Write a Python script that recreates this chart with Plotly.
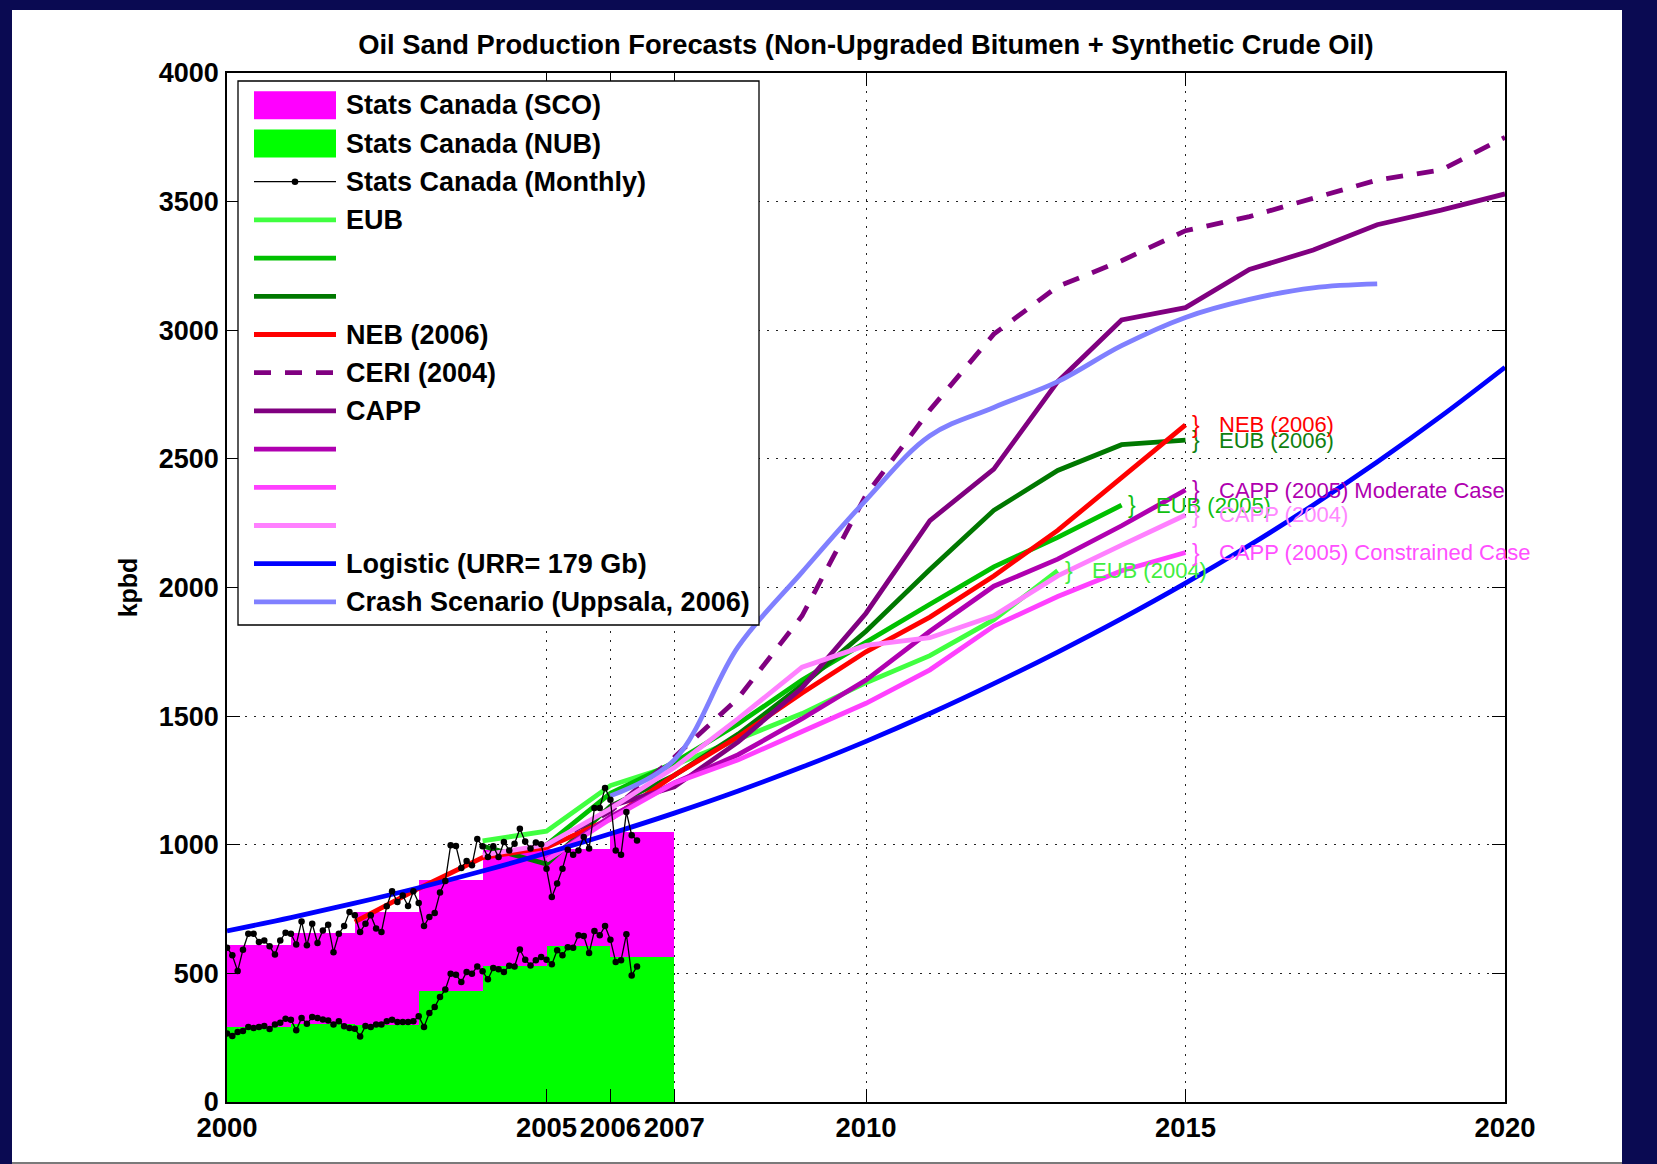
import plotly.graph_objects as go

# ---------------- data (kbpd) ----------------
# Stats Canada annual production, stacked: non-upgraded bitumen + synthetic crude
years_hist = [2000, 2001, 2002, 2003, 2004, 2005, 2006]
nub_annual = [290, 305, 300, 430, 529, 606, 564]
sco_annual = [319, 352, 438, 432, 451, 379, 486]

# Stats Canada monthly, Jan 2000 onwards
monthly_total = [600, 570, 509, 592, 654, 654, 622, 628, 605, 573, 628, 658,
                 654, 612, 702, 609, 693, 618, 667, 689, 582, 654, 684, 739,
                 726, 661, 693, 726, 674, 661, 761, 819, 777, 803, 762, 819,
                 774, 684, 719, 735, 814, 859, 998, 995, 910, 937, 920, 1022,
                 994, 952, 994, 952, 1011, 978, 1004, 1062, 1013, 985, 1009, 1002,
                 907, 797, 849, 907, 981, 961, 978, 1030, 985, 1143, 1143, 1221,
                 1175, 978, 961, 1127, 1037, 1017]
monthly_nub = [266, 257, 272, 276, 292, 288, 292, 295, 284, 301, 308, 324,
               320, 279, 327, 304, 330, 327, 321, 317, 301, 314, 294, 288,
               285, 255, 295, 292, 301, 301, 314, 320, 311, 311, 311, 314,
               333, 292, 346, 369, 408, 437, 499, 495, 466, 505, 499, 527,
               508, 477, 521, 516, 505, 530, 527, 593, 553, 531, 551, 564,
               553, 535, 590, 570, 602, 600, 648, 645, 579, 665, 648, 684,
               631, 544, 551, 652, 492, 527]

# Forecasts
eub2004_years = [2004, 2005, 2006, 2007, 2008, 2009, 2010, 2011, 2012, 2013]
eub2004 = [1015, 1053, 1230, 1310, 1410, 1510, 1630, 1735, 1875, 2065]

eub2005_years = [2005, 2006, 2007, 2008, 2009, 2010, 2011, 2012, 2013, 2014]
eub2005 = [1000, 1200, 1320, 1470, 1640, 1790, 1935, 2080, 2195, 2320]

eub2006_years = [2004, 2005, 2006, 2007, 2008, 2009, 2010, 2011, 2012, 2013, 2014, 2015]
eub2006 = [995, 925, 1150, 1270, 1430, 1620, 1830, 2070, 2300, 2455, 2555, 2573]

neb2006_years = [2002, 2003, 2004, 2005, 2006, 2007, 2008, 2009, 2010, 2011, 2012, 2013, 2014, 2015]
neb2006 = [700, 830, 950, 990, 1100, 1270, 1420, 1590, 1750, 1885, 2045, 2222, 2427, 2632]

ceri2004_years = [2005, 2006, 2007, 2008, 2009, 2010, 2011, 2012, 2013, 2014, 2015,
                  2016, 2017, 2018, 2019, 2020]
ceri2004 = [1000, 1130, 1340, 1570, 1890, 2360, 2690, 2985, 3170, 3270, 3387,
            3442, 3513, 3584, 3623, 3750]

capp2006_years = [2006, 2007, 2008, 2009, 2010, 2011, 2012, 2013, 2014, 2015,
                  2016, 2017, 2018, 2019, 2020]
capp2006 = [1150, 1225, 1400, 1610, 1900, 2260, 2460, 2800, 3040, 3088,
            3236, 3312, 3410, 3467, 3530]

capp2005m_years = [2005, 2006, 2007, 2008, 2009, 2010, 2011, 2012, 2013, 2014, 2015]
capp2005m = [940, 1110, 1240, 1350, 1490, 1640, 1830, 2005, 2110, 2240, 2379]

capp2005c_years = [2005, 2006, 2007, 2008, 2009, 2010, 2011, 2012, 2013, 2014, 2015]
capp2005c = [940, 1100, 1240, 1330, 1440, 1550, 1680, 1850, 1965, 2065, 2136]

capp2004_years = [2004, 2005, 2006, 2007, 2008, 2009, 2010, 2011, 2012, 2013, 2014, 2015]
capp2004 = [960, 1000, 1140, 1300, 1490, 1690, 1775, 1805, 1890, 2045, 2165, 2282]

logistic_years = list(range(2000, 2021))
logistic = [665, 717, 773, 833, 898, 968, 1043, 1123, 1209, 1302, 1402,
            1510, 1626, 1749, 1879, 2017, 2164, 2321, 2488, 2666, 2856]

crash_years = [2006, 2007, 2008, 2009, 2010, 2011, 2012, 2013, 2014, 2015, 2016, 2017, 2018]
crash = [1190, 1330, 1770, 2060, 2340, 2590, 2700, 2800, 2940, 3050, 3120, 3165, 3180]

x_ticks = [2000, 2005, 2006, 2007, 2010, 2015, 2020]
y_ticks = [0, 500, 1000, 1500, 2000, 2500, 3000, 3500, 4000]

# ---------------- styling ----------------
FONT = "Liberation Sans, Arial, Helvetica, sans-serif"
W, H = 1657, 1164
ML, MR, MT, MB = 227, 152, 73, 62
PW, PH = W - ML - MR, H - MT - MB

SCO_COLOR = "#ff00ff"
NUB_COLOR = "#00ff00"

# name on the line end, legend text, years, values, colour, dash, smooth
series = [
    dict(tag="EUB (2004)", legend="EUB", x=eub2004_years, y=eub2004,
         color="#40ff40", tcolor="#40ee40", dash="solid", shape="linear"),
    dict(tag="EUB (2005)", legend="", x=eub2005_years, y=eub2005,
         color="#00c000", tcolor="#10c010", dash="solid", shape="linear"),
    dict(tag="EUB (2006)", legend="", x=eub2006_years, y=eub2006,
         color="#007800", tcolor="#108010", dash="solid", shape="linear"),
    dict(tag="NEB (2006)", legend="NEB (2006)", x=neb2006_years, y=neb2006,
         color="#ff0000", tcolor="#ff0000", dash="solid", shape="linear"),
    dict(tag=None, legend="CERI (2004)", x=ceri2004_years, y=ceri2004,
         color="#800080", tcolor="#800080", dash="17px,14px", shape="linear"),
    dict(tag="CAPP (2006)", legend="CAPP", x=capp2006_years, y=capp2006,
         color="#800080", tcolor="#800080", dash="solid", shape="linear"),
    dict(tag="CAPP (2005) Moderate Case", legend="", x=capp2005m_years, y=capp2005m,
         color="#b000b0", tcolor="#b000b0", dash="solid", shape="linear"),
    dict(tag="CAPP (2005) Constrained Case", legend="", x=capp2005c_years, y=capp2005c,
         color="#ff40ff", tcolor="#ff50ff", dash="solid", shape="linear"),
    dict(tag="CAPP (2004)", legend="", x=capp2004_years, y=capp2004,
         color="#ff80ff", tcolor="#ff88ff", dash="solid", shape="linear"),
    dict(tag=None, legend="Logistic (URR= 179 Gb)", x=logistic_years, y=logistic,
         color="#0000ff", tcolor="#0000ff", dash="solid", shape="spline"),
    dict(tag=None, legend="Crash Scenario (Uppsala, 2006)", x=crash_years, y=crash,
         color="#8080ff", tcolor="#8080ff", dash="solid", shape="spline"),
]

fig = go.Figure()

# stacked annual production blocks, one year wide starting at each year
fig.add_trace(go.Bar(x=years_hist, y=nub_annual, width=1, offset=0,
                     marker=dict(color=NUB_COLOR, line=dict(width=0)),
                     name="Stats Canada (NUB)", showlegend=False))
fig.add_trace(go.Bar(x=years_hist, y=sco_annual, width=1, offset=0,
                     marker=dict(color=SCO_COLOR, line=dict(width=0)),
                     name="Stats Canada (SCO)", showlegend=False))

for s in series:
    fig.add_trace(go.Scatter(
        x=s["x"], y=s["y"], mode="lines", name=s["legend"] or s["tag"],
        line=dict(color=s["color"], width=4.8, dash=s["dash"], shape=s["shape"]),
        showlegend=False))

months_x = [2000 + i / 12 for i in range(len(monthly_total))]
for vals in (monthly_total, monthly_nub):
    fig.add_trace(go.Scatter(
        x=months_x, y=vals, mode="lines+markers", name="Stats Canada (Monthly)",
        line=dict(color="black", width=1.3),
        marker=dict(color="black", size=6.5),
        showlegend=False))

# labels at the end of each forecast
annotations = []
for s in series:
    if not s["tag"]:
        continue
    xe, ye = s["x"][-1], s["y"][-1]
    annotations.append(dict(x=xe + 0.17, y=ye, xref="x", yref="y", text="}",
                            showarrow=False, xanchor="center", yanchor="middle",
                            font=dict(family=FONT, size=23, color=s["tcolor"])))
    annotations.append(dict(x=xe + 0.50, y=ye, xref="x", yref="y", text=s["tag"],
                            showarrow=False, xanchor="left", yanchor="middle",
                            font=dict(family=FONT, size=22, color=s["tcolor"])))


def px_x(px):
    return (px - ML) / PW


def px_y(py):
    return (H - MB - py) / PH


shapes = []
# slide frame: navy surround with white page
shapes.append(dict(type="rect", xref="paper", yref="paper", layer="below",
                   x0=px_x(12), x1=px_x(1622), y0=px_y(1162), y1=px_y(10),
                   fillcolor="white", line=dict(width=0)))
shapes.append(dict(type="rect", xref="paper", yref="paper", layer="below",
                   x0=px_x(12), x1=px_x(1622), y0=px_y(1164), y1=px_y(1162),
                   fillcolor="#7a7a7a", line=dict(width=0)))

# legend box
LX0, LX1, LY0, LY1 = 238, 759, 81, 625
shapes.append(dict(type="rect", xref="paper", yref="paper", layer="above",
                   x0=px_x(LX0), x1=px_x(LX1), y0=px_y(LY1), y1=px_y(LY0),
                   fillcolor="white", line=dict(color="black", width=1.3)))

legend_rows = [("patch", SCO_COLOR, "solid", "Stats Canada (SCO)"),
               ("patch", NUB_COLOR, "solid", "Stats Canada (NUB)"),
               ("marker", "black", "solid", "Stats Canada (Monthly)")]
legend_rows += [("line", s["color"], s["dash"], s["legend"]) for s in series]

SX0, SX1, TX = 254, 336, 344
ROW0, ROWH = 105.3, 38.2
for i, (kind, color, dash, text) in enumerate(legend_rows):
    cy = ROW0 + ROWH * i
    if kind == "patch":
        shapes.append(dict(type="rect", xref="paper", yref="paper", layer="above",
                           x0=px_x(SX0), x1=px_x(SX1), y0=px_y(cy + 14), y1=px_y(cy - 14),
                           fillcolor=color, line=dict(width=0)))
    elif kind == "marker":
        shapes.append(dict(type="line", xref="paper", yref="paper", layer="above",
                           x0=px_x(SX0), x1=px_x(SX1), y0=px_y(cy), y1=px_y(cy),
                           line=dict(color=color, width=1.3)))
        mx = (SX0 + SX1) / 2
        shapes.append(dict(type="circle", xref="paper", yref="paper", layer="above",
                           x0=px_x(mx - 3.3), x1=px_x(mx + 3.3),
                           y0=px_y(cy + 3.3), y1=px_y(cy - 3.3),
                           fillcolor=color, line=dict(width=0)))
    else:
        shapes.append(dict(type="line", xref="paper", yref="paper", layer="above",
                           x0=px_x(SX0), x1=px_x(SX1), y0=px_y(cy), y1=px_y(cy),
                           line=dict(color=color, width=4.8, dash=dash)))
    if text:
        annotations.append(dict(x=px_x(TX), y=px_y(cy), xref="paper", yref="paper",
                                text=text, showarrow=False, xanchor="left",
                                yanchor="middle",
                                font=dict(family=FONT, size=27, color="black",
                                          weight="bold")))

axis_common = dict(
    showline=True, linecolor="black", linewidth=1.5, mirror="ticks",
    ticks="inside", ticklen=13, tickwidth=1.3, tickcolor="black",
    showgrid=True, gridcolor="#222222", gridwidth=1, griddash="2px,7px",
    zeroline=False, layer="above traces",
)

fig.update_layout(
    width=W, height=H,
    margin=dict(l=ML, r=MR, t=MT, b=MB, autoexpand=False),
    paper_bgcolor="#0a0a52", plot_bgcolor="white",
    barmode="stack", bargap=0,
    showlegend=False,
    title=dict(text="Oil Sand Production Forecasts (Non-Upgraded Bitumen + Synthetic Crude Oil)",
               x=(ML + PW / 2) / W, xanchor="center", y=1 - 44 / H, yanchor="middle",
               xref="container", yref="container",
               font=dict(family=FONT, size=27.3, color="black", weight="bold")),
    xaxis=dict(range=[2000, 2020], tickvals=x_ticks, ticktext=[str(v) for v in x_ticks],
               ticklabelstandoff=0,
               tickfont=dict(family=FONT, size=27.5, color="black", weight="bold"),
               **axis_common),
    yaxis=dict(range=[0, 4000], tickvals=y_ticks, ticklabelstandoff=1,
               tickfont=dict(family=FONT, size=27, color="black", weight="bold"),
               title=dict(text="kpbd", standoff=14,
                          font=dict(family=FONT, size=25, color="black", weight="bold")),
               **axis_common),
    shapes=shapes,
    annotations=annotations,
)

fig.write_html("out.html")
